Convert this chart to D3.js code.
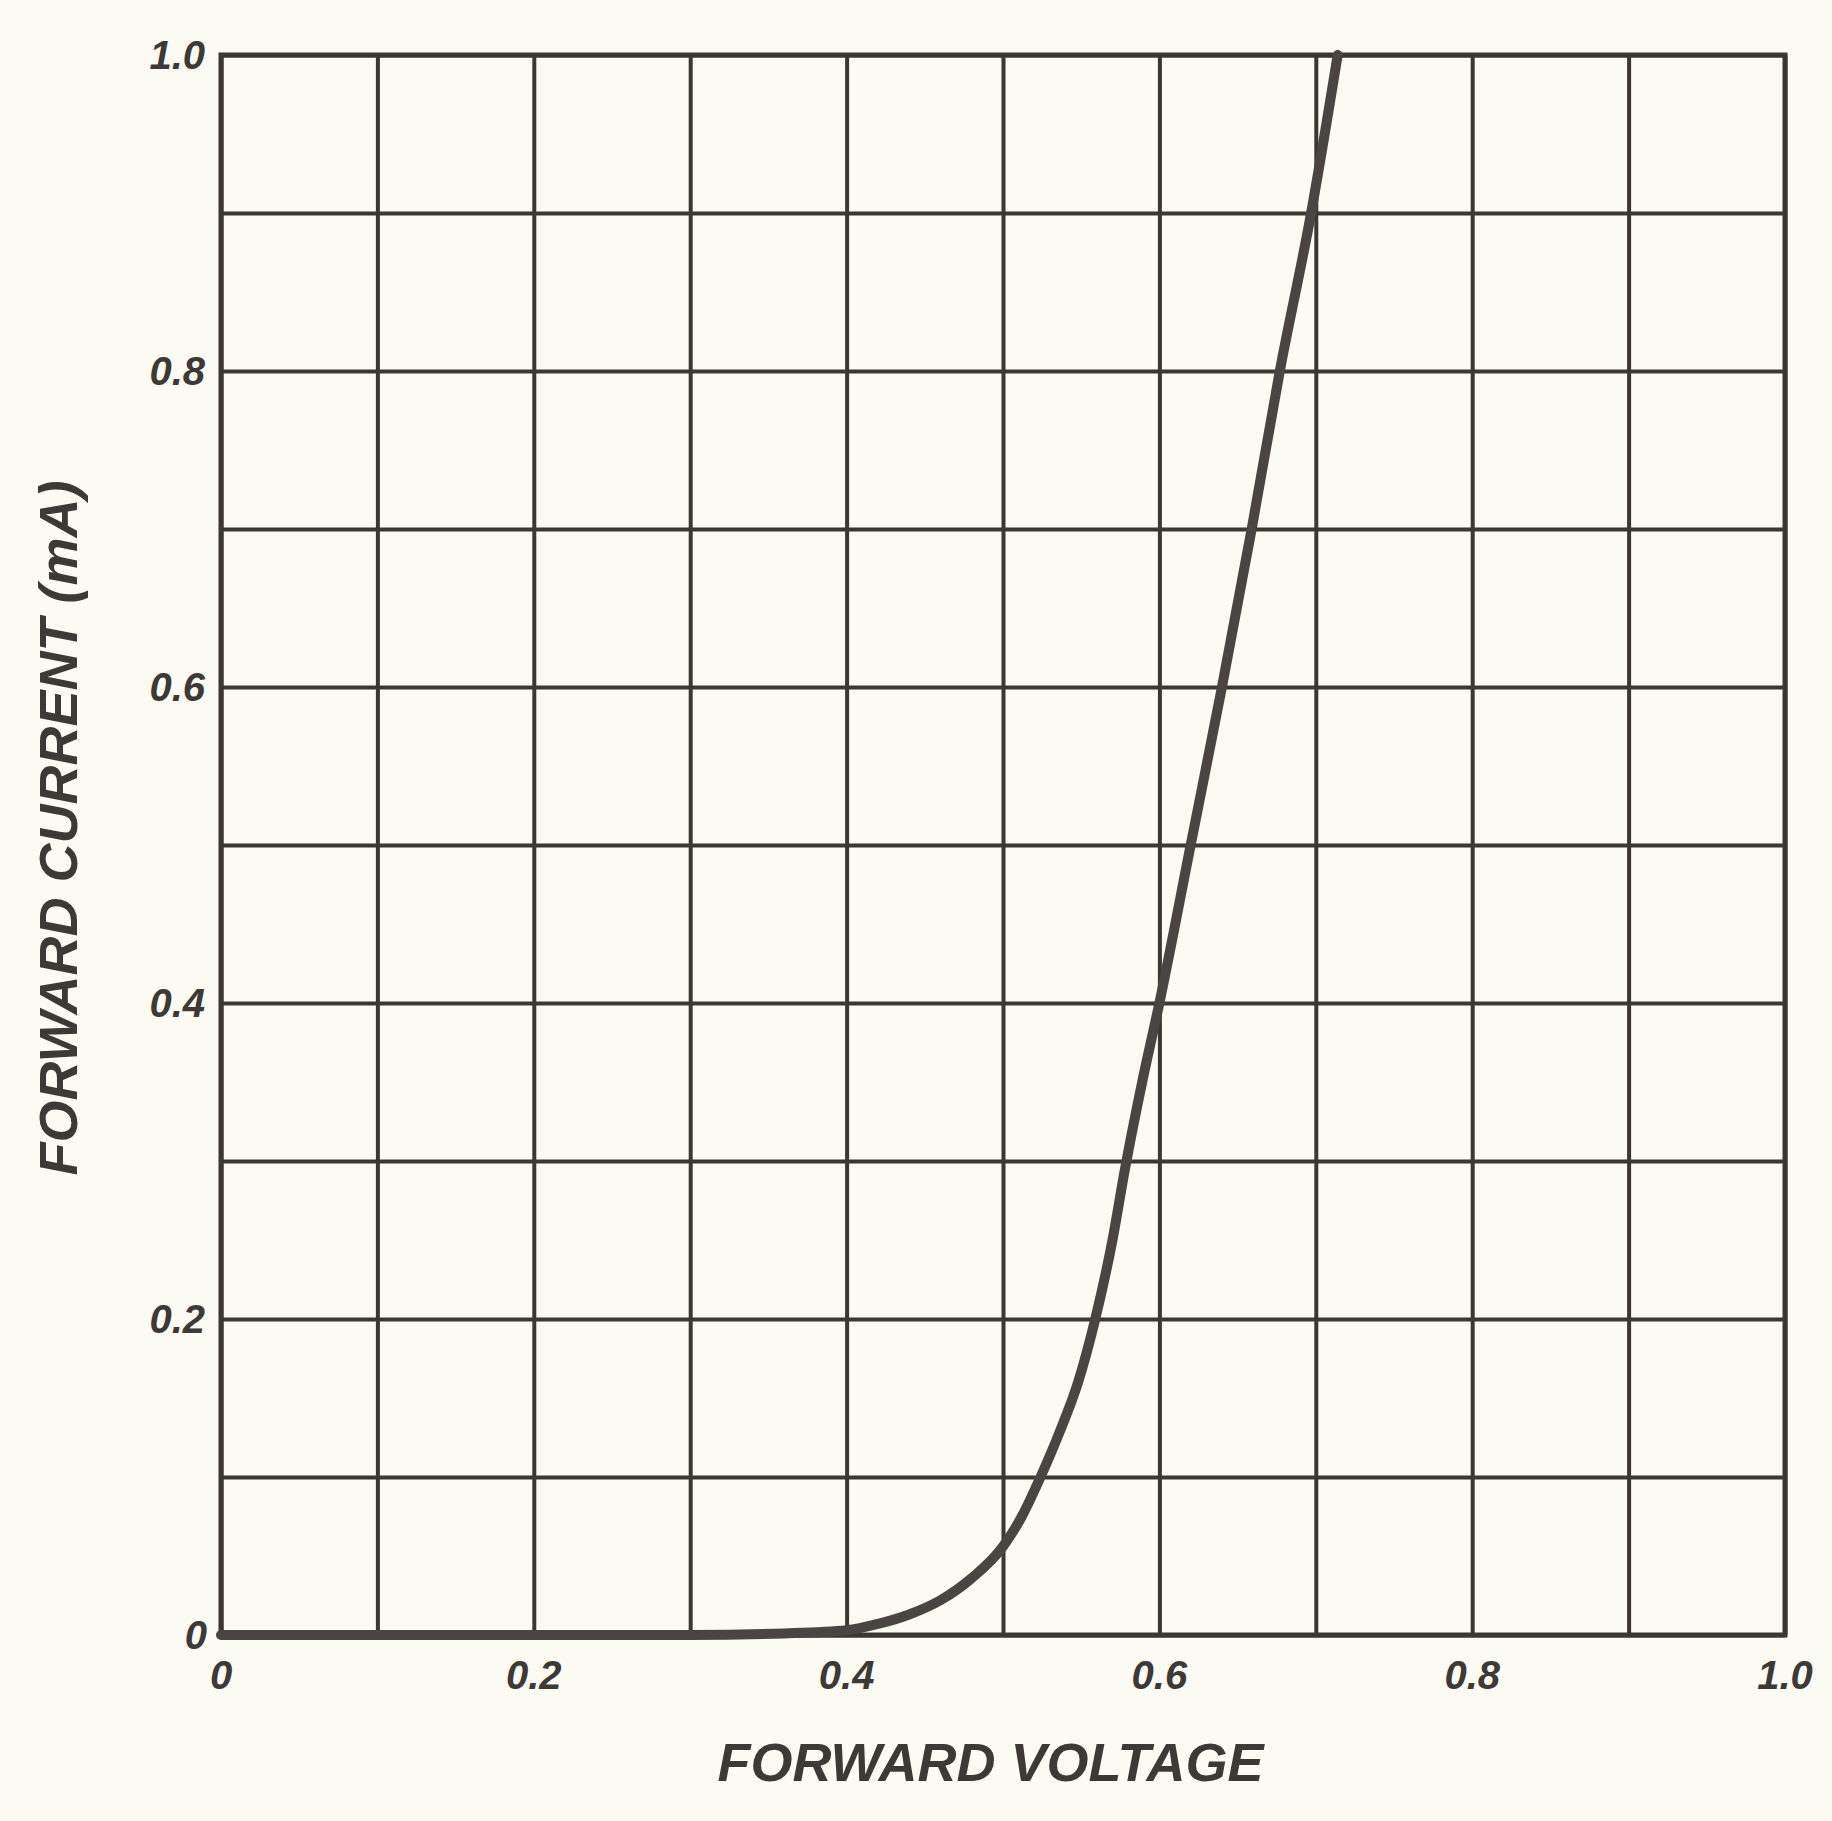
<!DOCTYPE html>
<html>
<head>
    <meta charset="utf-8">
    <title>Forward characteristic</title>
    <style>
        body { margin: 0; background: #fcfbf3; }
        text { font-family: "Liberation Sans", Arial, sans-serif; font-style: italic; font-weight: bold; fill: #3d3936; }
    </style>
</head>
<body>
<div id='plot'></div>
<script src="https://cdn.jsdelivr.net/npm/d3@7"></script>
<script>

    // values
    let voltage = [0, 0.1, 0.2, 0.3, 0.36, 0.4, 0.42, 0.44, 0.46, 0.48, 0.5, 0.512, 0.524, 0.536, 0.548, 0.559, 0.57, 0.578, 0.589, 0.6, 0.62, 0.64, 0.659, 0.677, 0.697, 0.714];
    let current = [0, 0, 0, 0, 0.001, 0.003, 0.007, 0.013, 0.022, 0.036, 0.056, 0.075, 0.1, 0.128, 0.16, 0.2, 0.25, 0.295, 0.35, 0.4, 0.5, 0.6, 0.7, 0.8, 0.9, 1.0];

    let gridTicks = d3.range(0, 11).map(d => d / 10);
    let xLabels = ['0', '0.2', '0.4', '0.6', '0.8', '1.0'];
    let yLabels = ['0', '0.2', '0.4', '0.6', '0.8', '1.0'];

    let svgWidth = 1832;
    let svgHeight = 1821;
    let margin = {top: 55, right: 47, bottom: 186, left: 221};
    let width = svgWidth - margin.left - margin.right;
    let height = svgHeight - margin.top - margin.bottom;

    function translate(x, y) {
        return 'translate(' + x + ',' + y + ')';
    }

    let svg = d3.select('#plot')
        .append('svg')
        .attr('width', svgWidth)
        .attr('height', svgHeight)
        .style('display', 'block');

    svg.append('rect')
        .attr('width', svgWidth)
        .attr('height', svgHeight)
        .attr('fill', '#fcfbf3');

    let g = svg.append('g')
        .attr('transform', translate(margin.left, margin.top));

    let x = d3.scaleLinear().domain([0, 1]).range([0, width]);
    let y = d3.scaleLinear().domain([0, 1]).range([height, 0]);

    // grid
    g.append('g')
        .call(d3.axisBottom(x).tickValues(gridTicks).tickSize(height).tickFormat(''));

    g.append('g')
        .call(d3.axisLeft(y).tickValues(gridTicks).tickSize(-width).tickFormat(''));

    g.selectAll('.domain').remove();
    g.selectAll('.tick line')
        .attr('stroke', '#3b3733')
        .attr('stroke-width', 4);

    g.append('rect')
        .attr('width', width)
        .attr('height', height)
        .attr('fill', 'none')
        .attr('stroke', '#3b3733')
        .attr('stroke-width', 5);

    // tick labels
    g.selectAll('.xlab')
        .data(xLabels)
        .enter()
        .append('text')
        .attr('class', 'xlab')
        .attr('x', d => x(+d))
        .attr('y', height + 54)
        .attr('text-anchor', 'middle')
        .style('font-size', '40px')
        .text(d => d);

    g.selectAll('.ylab')
        .data(yLabels)
        .enter()
        .append('text')
        .attr('class', 'ylab')
        .attr('x', d => +d === 0 ? -14 : -16)
        .attr('y', d => y(+d) + 14)
        .attr('text-anchor', 'end')
        .style('font-size', '40px')
        .text(d => d);

    // axis titles
    svg.append('text')
        .attr('x', margin.left + width * 0.492)
        .attr('y', 1781)
        .attr('text-anchor', 'middle')
        .style('font-size', '54px')
        .text('FORWARD VOLTAGE');

    svg.append('text')
        .attr('transform', translate(77, 828) + ' rotate(-90)')
        .attr('text-anchor', 'middle')
        .style('font-size', '54px')
        .text('FORWARD CURRENT (mA)');

    // curve
    let points = voltage.map((v, i) => [v, current[i]]);
    let line = d3.line()
        .x(d => x(d[0]))
        .y(d => y(d[1]))
        .curve(d3.curveMonotoneX);

    g.append('path')
        .datum(points)
        .attr('d', line)
        .attr('fill', 'none')
        .attr('stroke', '#4a4542')
        .attr('stroke-width', 10)
        .attr('stroke-linecap', 'round');

</script>
</body>
</html>
